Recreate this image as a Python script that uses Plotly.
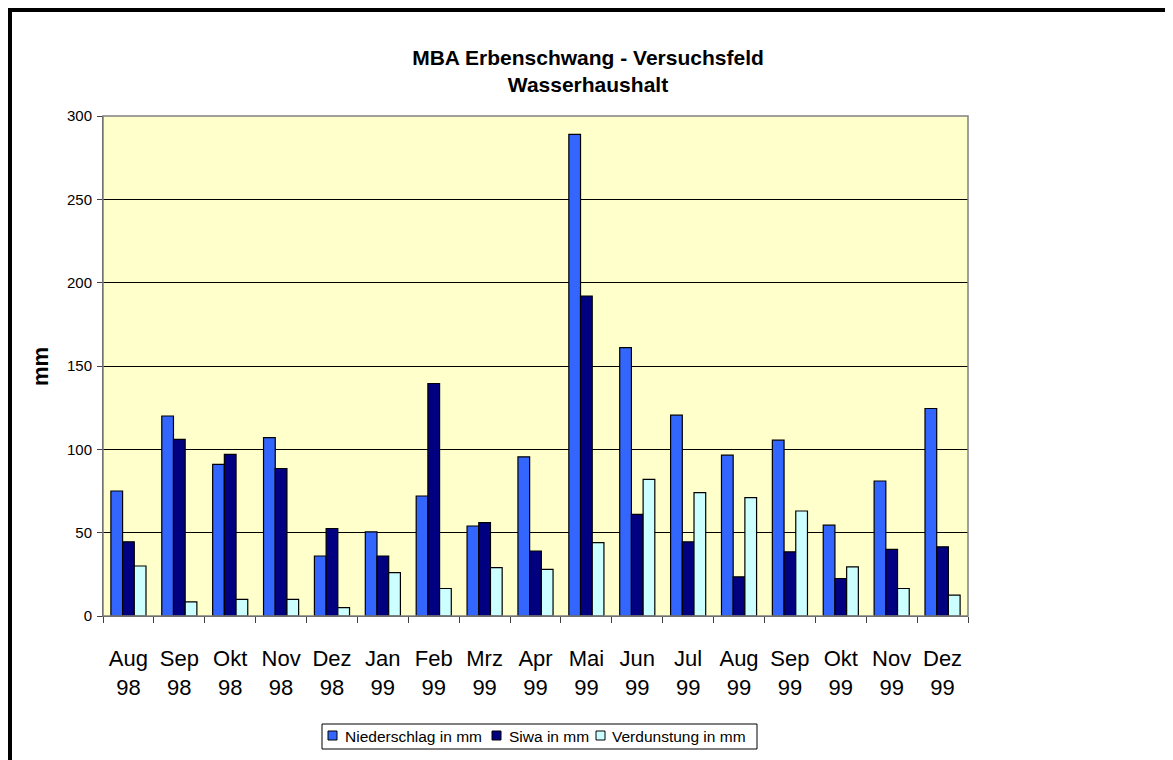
import plotly.graph_objects as go

months = ["Aug<br>98", "Sep<br>98", "Okt<br>98", "Nov<br>98", "Dez<br>98", "Jan<br>99",
          "Feb<br>99", "Mrz<br>99", "Apr<br>99", "Mai<br>99", "Jun<br>99", "Jul<br>99",
          "Aug<br>99", "Sep<br>99", "Okt<br>99", "Nov<br>99", "Dez<br>99"]
niederschlag = [75, 120, 91, 107, 36, 50.5, 72, 54, 95.5, 289, 161, 120.5, 96.5, 105.5, 54.5, 81, 124.5]
siwa = [44.5, 106, 97, 88.5, 52.5, 36, 139.5, 56, 39, 192, 61, 44.5, 23.5, 38.5, 22.5, 40, 41.5]
verdunstung = [30, 8.5, 10, 10, 5, 26, 16.5, 29, 28, 44, 82, 74, 71, 63, 29.5, 16.5, 12.5]

series_names = ["Niederschlag in mm", "Siwa in mm", "Verdunstung in mm"]
series_values = [niederschlag, siwa, verdunstung]
series_colors = ["#3366FF", "#000080", "#CCFFFF"]

FONT = "Arial, Liberation Sans, sans-serif"

# figure geometry (figure sits 8px inside the page because of the body margin)
W, H = 1165, 752
L, R, T, B = 95, 205, 108, 144
pw, ph = W - L - R, H - T - B


def px_x(x):
    return (x - L) / pw


def px_y(y):
    return (H - B - y) / ph


fig = go.Figure()
for name, vals, col in zip(series_names, series_values, series_colors):
    fig.add_trace(go.Bar(
        x=months, y=vals, name=name, showlegend=False,
        marker=dict(color=col, line=dict(color="black", width=1.2)),
    ))

shapes = [
    # plot area frame (top/right)
    dict(type="rect", xref="paper", yref="paper", x0=0, x1=1, y0=0, y1=1,
         line=dict(color="#808080", width=1.5), layer="above"),
    # outer black chart frame
    dict(type="rect", xref="paper", yref="paper",
         x0=px_x(2), x1=px_x(W + 20), y0=px_y(H + 20), y1=px_y(2),
         line=dict(color="black", width=4), layer="above"),
    # legend box
    dict(type="rect", xref="paper", yref="paper",
         x0=px_x(314), x1=px_x(749), y0=px_y(741), y1=px_y(716),
         line=dict(color="black", width=1), fillcolor="white", layer="above"),
]
annotations = [
    dict(text="<b>mm</b>", xref="paper", yref="paper", x=px_x(32), y=0.5,
         xanchor="center", yanchor="middle", textangle=-90, showarrow=False,
         font=dict(size=22, family=FONT, color="black")),
]

legend_sq_x = [320, 484, 588]
legend_tx_x = [335, 499, 602]
for name, col, sx, tx in zip(series_names, series_colors, legend_sq_x, legend_tx_x):
    shapes.append(dict(type="rect", xref="paper", yref="paper",
                       x0=px_x(sx), x1=px_x(sx + 9), y0=px_y(732), y1=px_y(723),
                       line=dict(color="black", width=1), fillcolor=col, layer="above"))
    annotations.append(dict(text=name, xref="paper", yref="paper",
                            x=px_x(tx), y=px_y(728.5), xanchor="left", yanchor="middle",
                            showarrow=False,
                            font=dict(size=15.5, family=FONT, color="black")))

fig.update_layout(
    width=W, height=H,
    margin=dict(l=L, r=R, t=T, b=B),
    paper_bgcolor="white",
    plot_bgcolor="#FFFFCC",
    barmode="group",
    bargap=0.31,
    bargroupgap=0,
    showlegend=False,
    font=dict(family=FONT, color="black"),
    title=dict(
        text="<b>MBA Erbenschwang - Versuchsfeld<br>Wasserhaushalt</b>",
        x=px_x(580), xref="paper", xanchor="center",
        y=1 - 57 / H, yref="container", yanchor="top",
        font=dict(size=21, family=FONT, color="black"),
    ),
    xaxis=dict(
        showline=True, linecolor="#404040", linewidth=1,
        ticks="outside", tickson="boundaries", ticklen=6, tickcolor="#404040",
        tickfont=dict(size=22),
        ticklabelstandoff=23,
        showgrid=False,
    ),
    yaxis=dict(
        range=[0, 300], dtick=50,
        showline=True, linecolor="#404040", linewidth=1,
        ticks="outside", ticklen=5, tickcolor="#404040",
        tickfont=dict(size=15),
        ticklabelstandoff=2,
        showgrid=True, gridcolor="black", gridwidth=1,
        zeroline=False,
    ),
    shapes=shapes,
    annotations=annotations,
)

fig.write_html("out.html")
